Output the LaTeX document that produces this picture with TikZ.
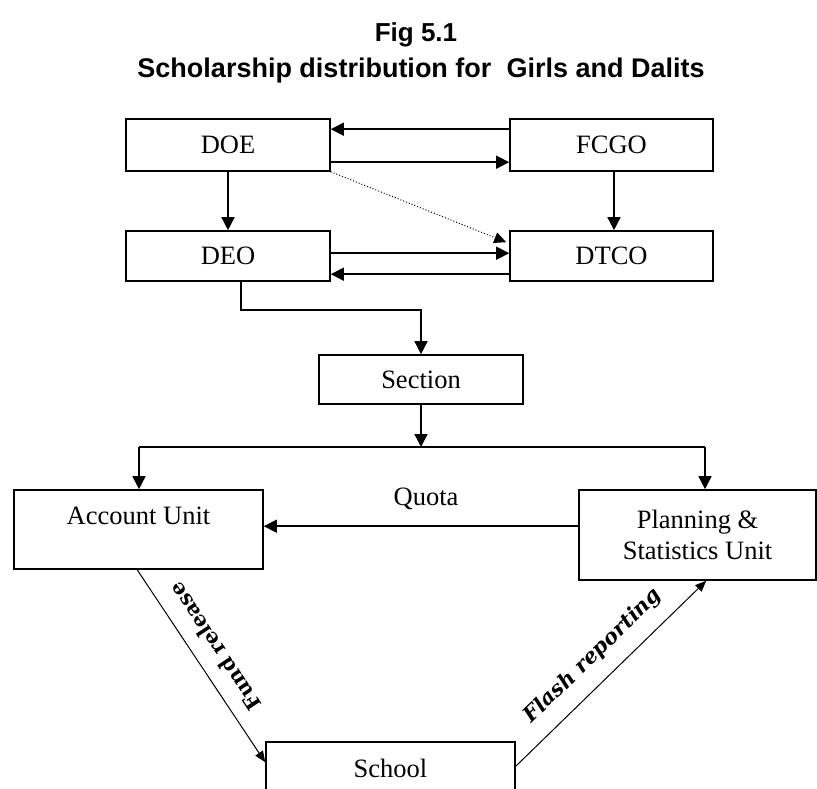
\documentclass[tikz,border=0pt]{standalone}
\usepackage{fontspec}
\usetikzlibrary{arrows.meta,calc}
\newfontfamily\titlefont{Liberation Sans}
\newfontfamily\slabfont{DejaVu Serif}
\newfontfamily\serifbox{Liberation Serif}
\newcommand\boxfont{\serifbox\fontsize{26.5}{31}\selectfont}
\begin{document}
\begin{tikzpicture}[x=1pt,y=-1pt,
  box/.style={draw,line width=1.6pt,inner sep=0pt,align=center,font=\boxfont},
  arr/.style={line width=1.5pt,-{Triangle[length=13pt,width=13pt]}},
  thinarr/.style={line width=1pt,-{Triangle[length=11pt,width=9pt]}},
  dotarr/.style={line width=1pt,dotted,-{Triangle[length=12pt,width=11pt]}},
  slab/.style={font=\slabfont\bfseries\fontsize{20.5}{23}\selectfont,inner sep=0pt}]
  \clip (0,0) rectangle (817,789);

  % headings
  \node[anchor=base,font=\titlefont\bfseries\fontsize{26}{30}\selectfont] (fig) at (416,42) {Fig 5.1};
  \node[anchor=base,font=\titlefont\bfseries\fontsize{27}{31}\selectfont] (title) at (421,78)
    {Scholarship distribution for\ \ Girls and Dalits};

  % boxes
  \node[box,minimum width=204pt,minimum height=52pt] (DOE) at (228,145) {DOE};
  \node[box,minimum width=203pt,minimum height=52pt] (FCGO) at (611.5,145) {FCGO};
  \node[box,minimum width=204pt,minimum height=50pt] (DEO) at (228,256) {DEO};
  \node[box,minimum width=203pt,minimum height=50pt] (DTCO) at (611.5,256) {DTCO};
  \node[box,minimum width=204pt,minimum height=49pt] (Section) at (421,379.5) {Section};
  \node[box,minimum width=249pt,minimum height=79pt] (Account) at (138.5,529.5) {};
  \node[font=\boxfont,anchor=base] (AccountText) at (138.5,524) {Account Unit};
  \node[box,minimum width=237pt,minimum height=90pt] (Planning) at (697.5,535)
    {Planning \&\\Statistics Unit};
  \node[box,minimum width=249pt,minimum height=66pt] (School) at (390.5,775) {};
  \node[font=\boxfont,anchor=base] (SchoolText) at (390.5,777) {School};
  \node[font=\boxfont] (Quota) at (426,499) {Quota};

  % top block links
  \draw[arr] ($(FCGO.north west)+(0,11)$) -- ($(DOE.north east)+(0,11)$);
  \draw[arr] ($(DOE.north east)+(0,44)$) -- ($(FCGO.north west)+(0,44)$);
  \draw[arr] (DOE.south) -- (DEO.north);
  \draw[arr] ([xshift=2.5pt]FCGO.south) -- ([xshift=2.5pt]DTCO.north);
  \draw[dotarr] (DOE.south east) -- ($(DTCO.north west)+(-3,12)$);
  \draw[arr] ($(DEO.north east)+(0,23)$) -- ($(DTCO.north west)+(0,23)$);
  \draw[arr] ($(DTCO.north west)+(0,44)$) -- ($(DEO.north east)+(0,44)$);

  % down to the section and the units
  \draw[arr] ($(DEO.south west)+(116,0)$) -- ++(0,28) -| (Section.north);
  \coordinate (qL) at (139,447);
  \coordinate (qR) at (705,447);
  \draw[line width=1.5pt] (qL) -- (qR);
  \draw[arr] (Section.south) -- (Section.south |- qL);
  \draw[arr] (qL) -- (qL |- Account.north);
  \draw[arr] (qR) -- (qR |- Planning.north);
  \draw[arr] ($(Planning.north west)+(0,37)$) -- ($(Account.north east)+(0,37)$);

  % school links
  \draw[thinarr] ($(Account.south west)+(124,0)$) -- ($(School.north west)+(0,21)$);
  \draw[thinarr] ($(School.north east)+(0,25)$) -- ($(Planning.south west)+(128,0)$);
  \node[slab,rotate=123.4] (fund) at (215,647) {Fund release};
  \node[slab,font=\slabfont\bfseries\itshape\fontsize{21}{24}\selectfont,rotate=44.2] (flash) at (593,656) {Flash reporting};
\end{tikzpicture}
\end{document}
